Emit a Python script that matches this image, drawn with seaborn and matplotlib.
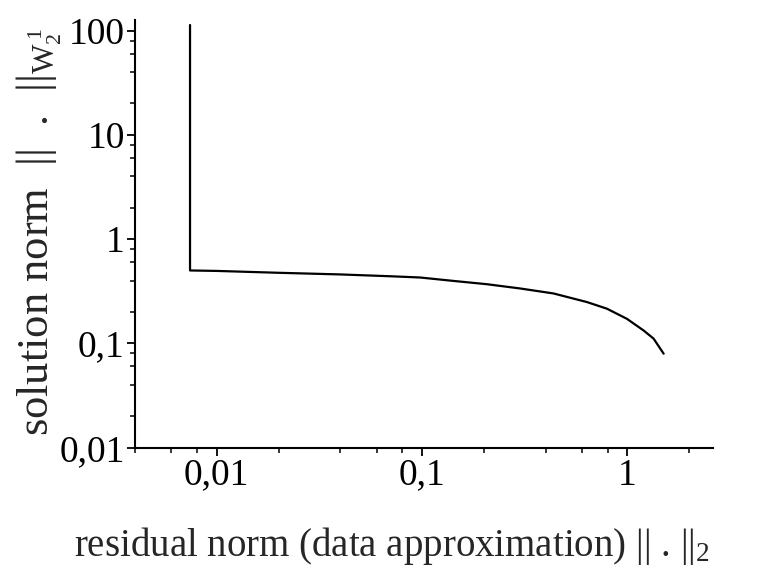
import matplotlib
matplotlib.use("Agg")
import matplotlib.pyplot as plt
import seaborn as sns
import pandas as pd
from matplotlib.ticker import FixedLocator, FixedFormatter, LogLocator, NullFormatter

# data (L-curve)
residual_norm = [0.00741, 0.00741, 0.01, 0.02, 0.04, 0.07, 0.0978, 0.142, 0.207, 0.300,
                 0.436, 0.634, 0.794, 0.993, 1.197, 1.34, 1.50]
solution_norm = [113, 0.50, 0.495, 0.475, 0.458, 0.44, 0.428, 0.397, 0.369, 0.336,
                 0.301, 0.249, 0.215, 0.172, 0.133, 0.111, 0.0796]

x_ticks = [0.01, 0.1, 1]
x_tick_labels = ["0,01", "0,1", "1"]
y_ticks = [0.01, 0.1, 1, 10, 100]
y_tick_labels = ["0,01", "0,1", "1", "10", "100"]

sns.set_style("ticks")
plt.rcParams["font.family"] = ["Liberation Serif", "DejaVu Serif"]
plt.rcParams["mathtext.fontset"] = "custom"
plt.rcParams["mathtext.rm"] = "Liberation Serif"
plt.rcParams["mathtext.it"] = "Liberation Serif"

df = pd.DataFrame({"x": residual_norm, "y": solution_norm})

fig = plt.figure(figsize=(7.73, 5.73), dpi=100)
ax = fig.add_axes([0.1747, 0.2188, 0.922 - 0.1747, 0.965 - 0.2188])
sns.lineplot(data=df, x="x", y="y", sort=False, estimator=None, color="black", linewidth=1.6, ax=ax)

ax.set_xscale("log")
ax.set_yscale("log")
ax.set_xlim(0.004, 2.6)
ax.set_ylim(0.01, 126)

ax.xaxis.set_major_locator(FixedLocator(x_ticks))
ax.xaxis.set_major_formatter(FixedFormatter(x_tick_labels))
ax.yaxis.set_major_locator(FixedLocator(y_ticks))
ax.yaxis.set_major_formatter(FixedFormatter(y_tick_labels))
ax.xaxis.set_minor_locator(LogLocator(base=10, subs=[2, 4, 6, 8]))
ax.yaxis.set_minor_locator(LogLocator(base=10, subs=[2, 4, 6, 8]))
ax.xaxis.set_minor_formatter(NullFormatter())
ax.yaxis.set_minor_formatter(NullFormatter())

sns.despine(ax=ax)
for s in ["left", "bottom"]:
    ax.spines[s].set_linewidth(1.5)
    ax.spines[s].set_color("black")
ax.tick_params(which="major", direction="out", length=5.5, width=1.3, labelsize=27, colors="black", pad=2)
ax.tick_params(which="minor", direction="out", length=3.5, width=1.1, colors="black")

ax.set_xlabel(r"residual norm (data approximation) || . ||$_2$", fontsize=28)
ax.xaxis.set_label_coords(0.445, -0.181)
ax.set_ylabel(r"solution norm  ||  .  ||$_{W_2^{\,1}}$", fontsize=32)
ax.yaxis.set_label_coords(-0.125, 0.504)

fig.savefig("out.png", dpi=100)
